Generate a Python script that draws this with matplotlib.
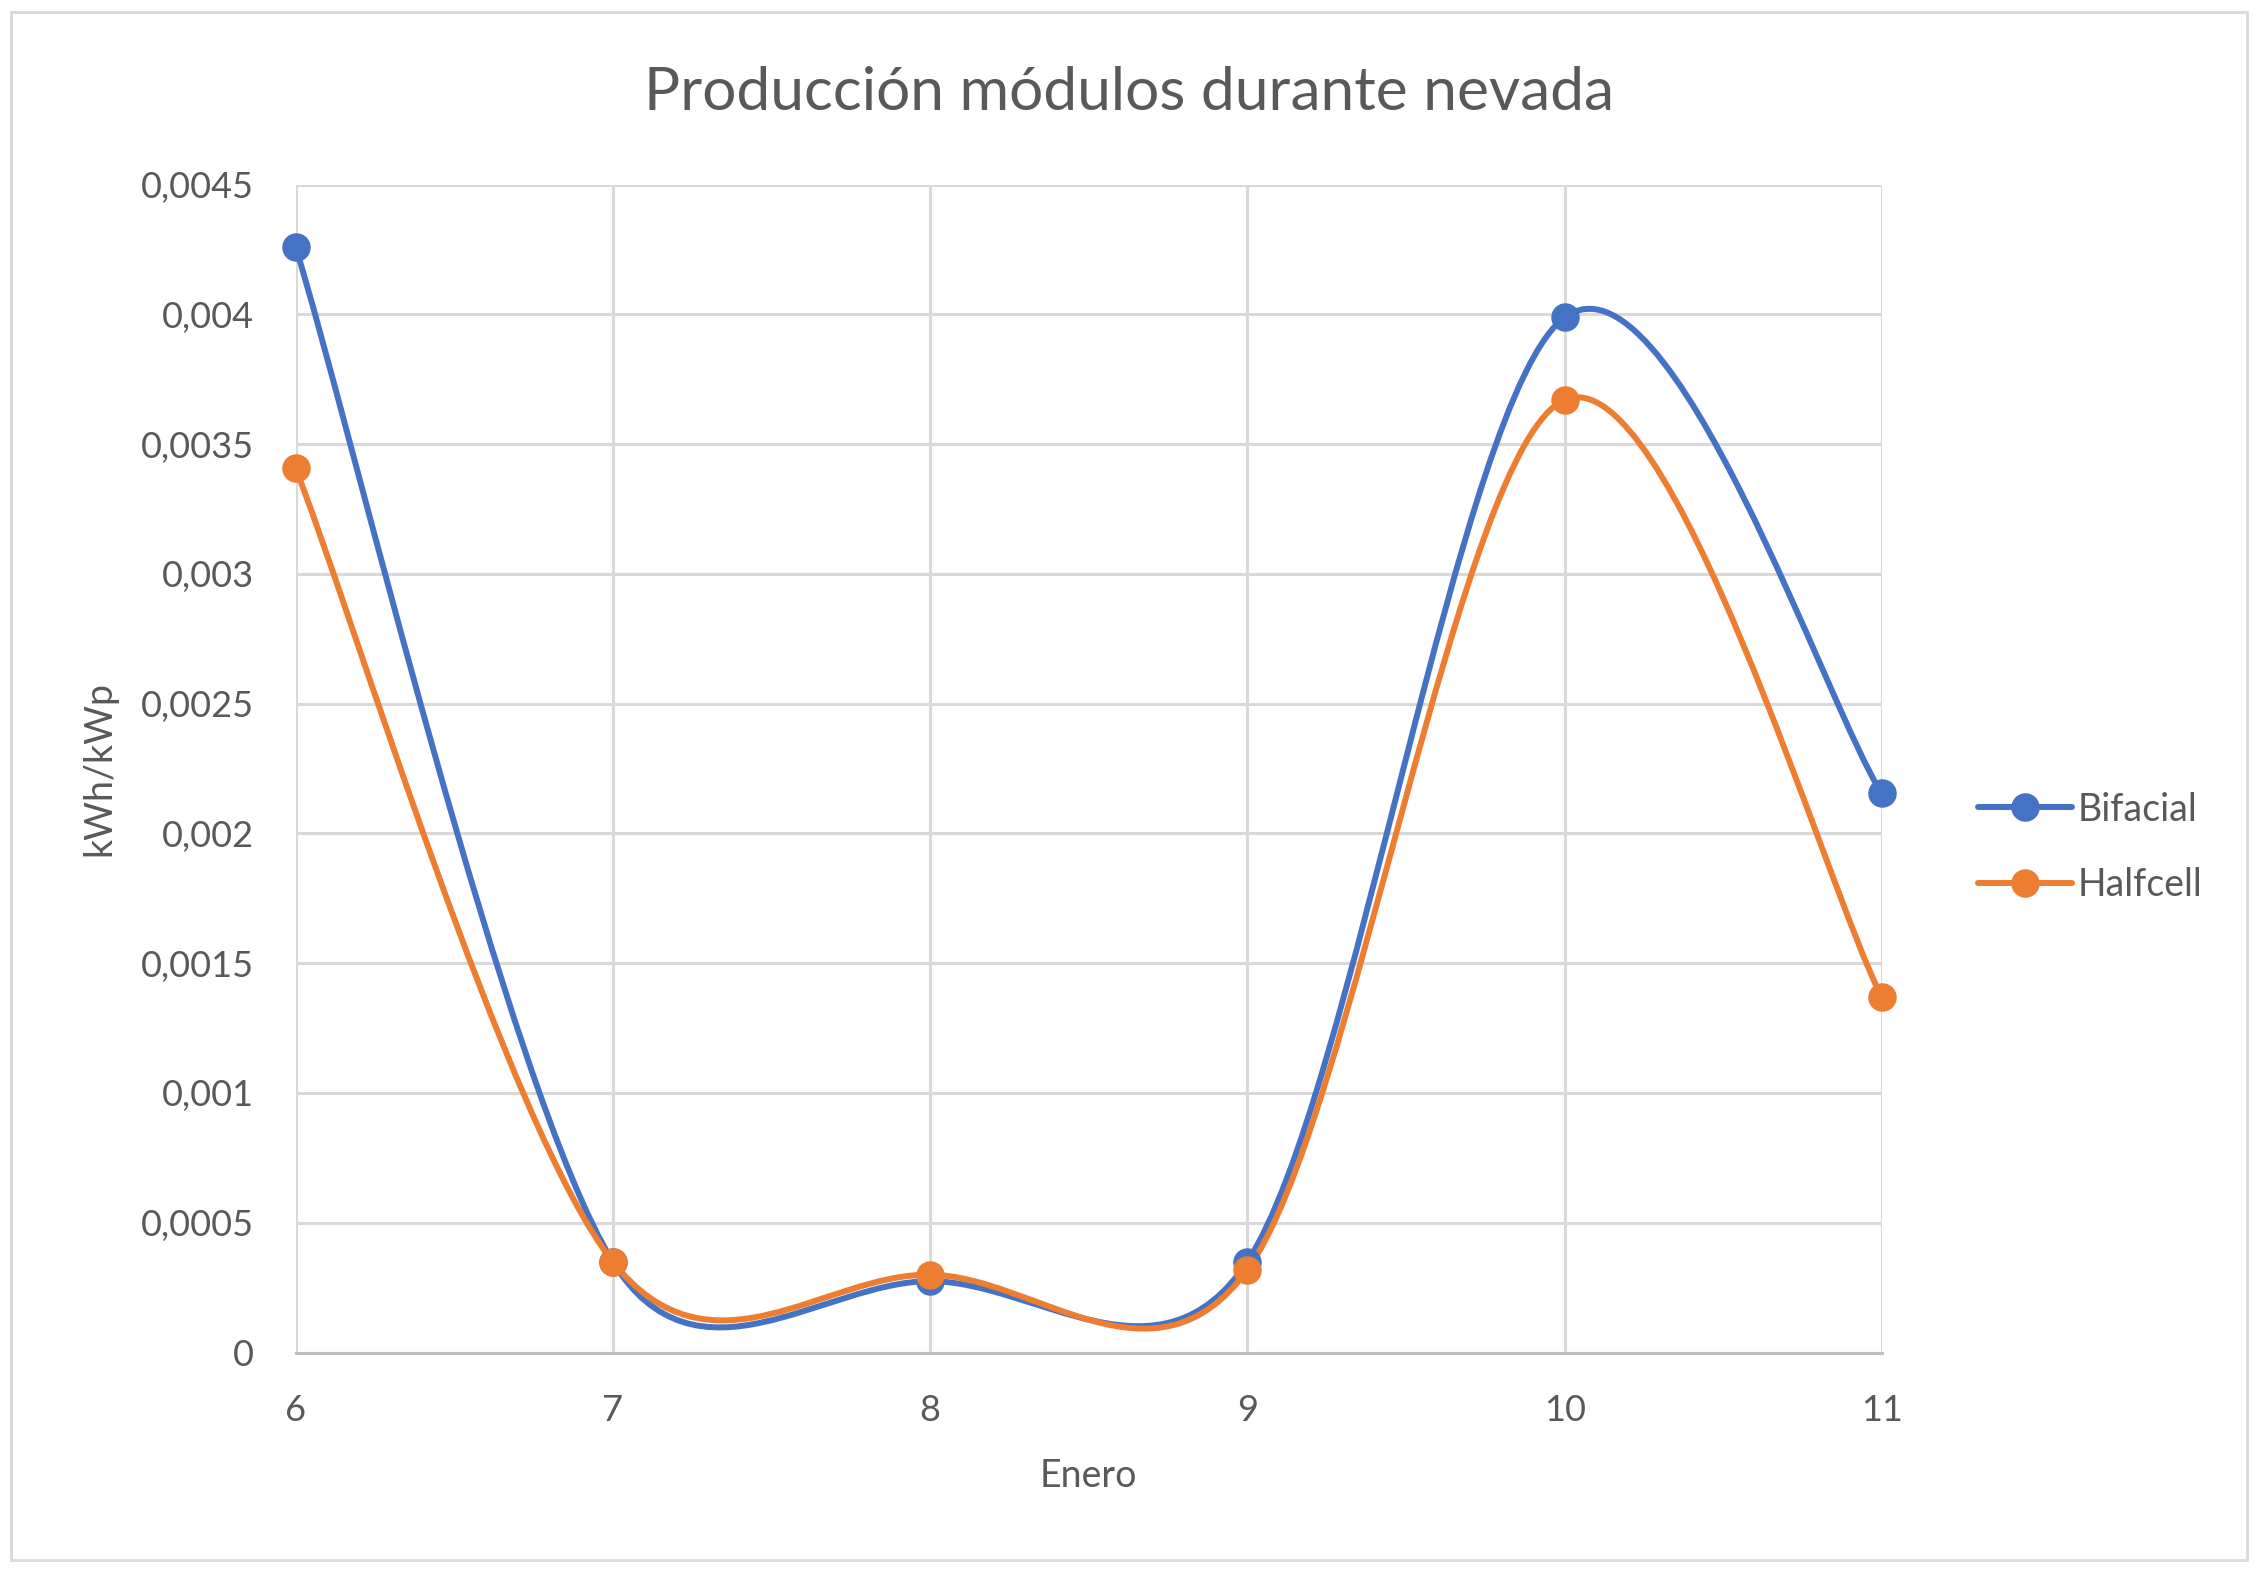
import numpy as np
import matplotlib.pyplot as plt
from matplotlib.path import Path
from matplotlib.patches import PathPatch, Rectangle
from matplotlib.lines import Line2D

plt.rcParams['font.family'] = ['Lato', 'DejaVu Sans']

dias = [6, 7, 8, 9, 10, 11]
bifacial = [0.00426, 0.00035, 0.000275, 0.00035, 0.003988, 0.002155]
halfcell = [0.003407, 0.00035, 0.0003, 0.000318, 0.00367, 0.00137]
y_ticks = [0, 0.0005, 0.001, 0.0015, 0.002, 0.0025, 0.003, 0.0035, 0.004, 0.0045]
y_labels = ['0', '0,0005', '0,001', '0,0015', '0,002', '0,0025', '0,003', '0,0035', '0,004', '0,0045']

azul = '#4472C4'
naranja = '#ED7D31'
gris_txt = '#595959'


def curva_suave(ax, x, y):
    # Excel-like smoothed line: bezier segments, control arms capped at half the segment
    tr = ax.transData
    p = tr.transform(np.column_stack([x, y]).astype(float))
    n = len(p)
    verts = [p[0]]
    codes = [Path.MOVETO]
    for i in range(n - 1):
        p0 = p[i - 1] if i > 0 else p[i]
        p1, p2 = p[i], p[i + 1]
        p3 = p[i + 2] if i + 2 < n else p[i + 1]
        d02 = np.hypot(*(p2 - p0))
        d12 = np.hypot(*(p2 - p1))
        d13 = np.hypot(*(p3 - p1))
        f1 = 1 / 6 if d02 / 6 < d12 / 2 else d12 / (2 * d02)
        f2 = 1 / 6 if d13 / 6 < d12 / 2 else d12 / (2 * d13)
        c1 = p1 + (p2 - p0) * f1
        c2 = p2 - (p3 - p1) * f2
        verts += [c1, c2, p2]
        codes += [Path.CURVE4] * 3
    verts = tr.inverted().transform(np.array(verts))
    return Path(verts, codes)


fig = plt.figure(figsize=(22.61, 15.72), dpi=100)
ax = fig.add_axes([0.1307, 0.1396, 0.7016, 0.743])
ax.set_xlim(6, 11)
ax.set_ylim(0, 0.0045)

for serie, color in [(bifacial, azul), (halfcell, naranja)]:
    ax.add_patch(PathPatch(curva_suave(ax, dias, serie), facecolor='none', edgecolor=color,
                           lw=4.3, capstyle='round', joinstyle='round', zorder=3))
    ax.plot(dias, serie, ls='none', marker='o', ms=19.5, color=color, zorder=4, clip_on=False)

ax.set_xticks(dias)
ax.set_yticks(y_ticks)
ax.set_yticklabels(y_labels)
ax.grid(True, color='#D9D9D9', lw=2.2)
ax.set_axisbelow(True)
for s in ['top', 'right', 'left']:
    ax.spines[s].set_visible(False)
ax.spines['bottom'].set_color('#BFBFBF')
ax.spines['bottom'].set_linewidth(2.2)
ax.tick_params(length=0, labelsize=26, colors=gris_txt, pad=30)
ax.tick_params(axis='y', pad=30)
ax.set_xlabel('Enero', fontsize=27, color=gris_txt, labelpad=22)
ax.set_ylabel('kWh/kWp', fontsize=27, color=gris_txt, labelpad=17)

fig.text(0.4994, 0.941, 'Producción módulos durante nevada', ha='center', va='center',
         fontsize=43.5, color=gris_txt)

handles = [Line2D([], [], color=azul, lw=4.3, marker='o', ms=19.5, solid_capstyle='round'),
           Line2D([], [], color=naranja, lw=4.3, marker='o', ms=19.5, solid_capstyle='round')]
fig.legend(handles, ['Bifacial', 'Halfcell'], loc='center left', bbox_to_anchor=(0.86, 0.461),
           frameon=False, fontsize=27, labelcolor=gris_txt, handlelength=2.5,
           handletextpad=0.15, labelspacing=1.05)

fig.add_artist(Rectangle((0.005, 0.0075), 0.989, 0.985, transform=fig.transFigure,
                         facecolor='none', edgecolor='#D9D9D9', lw=2))

fig.savefig('out.png', dpi=100)
